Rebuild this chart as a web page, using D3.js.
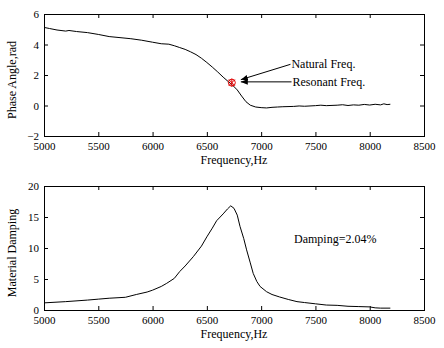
<!DOCTYPE html>
<html>
<head>
<meta charset="utf-8">
<script src="https://d3js.org/d3.v7.min.js"></script>
<style>
  body { margin: 0; background: #fff; }
  svg text { font-family: "Liberation Serif", "Times New Roman", serif; font-size: 11px; fill: #000; }
  .frame { fill: none; stroke: #000; stroke-width: 1; }
  .curve { fill: none; stroke: #000; stroke-width: 1; }
  .domain { display: none; }
</style>
</head>
<body>
<svg width="444" height="348"></svg>
<script>
// phase angle (rad) vs frequency
var phaseFreq = [5000, 5050, 5120, 5200, 5230, 5300, 5400, 5500, 5600, 5700, 5800, 5900, 6000, 6080, 6150, 6200, 6250, 6300, 6350, 6400, 6450, 6500, 6550, 6600, 6650, 6700, 6730, 6780, 6820, 6860, 6900, 6950, 7000, 7050, 7100, 7150, 7200, 7300, 7350, 7400, 7500, 7550, 7600, 7700, 7750, 7800, 7850, 7900, 7950, 8000, 8050, 8100, 8130, 8160, 8190];
var phaseVal  = [5.12, 5.05, 4.95, 4.88, 4.92, 4.85, 4.78, 4.66, 4.52, 4.45, 4.38, 4.28, 4.15, 4.05, 4.02, 3.92, 3.80, 3.68, 3.52, 3.34, 3.10, 2.82, 2.52, 2.20, 1.86, 1.55, 1.38, 1.02, 0.62, 0.25, 0.02, -0.10, -0.14, -0.16, -0.12, -0.10, -0.08, -0.06, -0.03, -0.05, -0.01, 0.02, -0.01, 0.02, 0.05, 0.00, 0.04, 0.02, 0.07, 0.03, 0.08, 0.04, 0.11, 0.06, 0.08];

// material damping vs frequency
var dampFreq = [5000, 5200, 5400, 5500, 5600, 5750, 5850, 5950, 6000, 6080, 6130, 6200, 6250, 6300, 6375, 6450, 6500, 6550, 6590, 6650, 6690, 6720, 6750, 6780, 6805, 6840, 6866, 6900, 6927, 6960, 6990, 7050, 7100, 7170, 7250, 7330, 7400, 7500, 7600, 7700, 7800, 7900, 8000, 8050, 8100, 8190];
var dampVal  = [1.15, 1.35, 1.6, 1.75, 1.9, 2.05, 2.5, 2.9, 3.2, 3.8, 4.3, 5.1, 6.2, 7.1, 8.6, 10.3, 11.8, 13.2, 14.4, 15.5, 16.3, 16.8, 16.4, 15.3, 13.5, 11.5, 9.7, 7.6, 5.9, 4.6, 3.8, 2.95, 2.5, 2.1, 1.7, 1.35, 1.2, 1.0, 0.8, 0.75, 0.6, 0.55, 0.5, 0.35, 0.3, 0.3];

var xTicks = [5000, 5500, 6000, 6500, 7000, 7500, 8000, 8500];
var phaseTicks = [-2, 0, 2, 4, 6];
var dampTicks = [0, 5, 10, 15, 20];

var natural = {f: 6730, v: 1.5};

var svg = d3.select("svg");
var x = d3.scaleLinear().domain([5000, 8500]).range([44, 424]);
var yTop = d3.scaleLinear().domain([-2, 6]).range([136, 14]);
var yBot = d3.scaleLinear().domain([0, 20]).range([310, 186]);
var fmt = d3.format("d");

function serif(sel) {
  sel.attr("font-family", "Liberation Serif, Times New Roman, serif").attr("font-size", 11);
}

function panel(y, yTicks, freq, vals, ylabel) {
  var g = svg.append("g");
  var top = y.range()[1], bottom = y.range()[0];

  g.append("g").attr("transform", "translate(0," + bottom + ")")
    .call(d3.axisBottom(x).tickValues(xTicks).tickSize(-4).tickPadding(6).tickFormat(fmt))
    .call(serif);
  g.append("g").attr("transform", "translate(0," + top + ")")
    .call(d3.axisTop(x).tickValues(xTicks).tickSize(-4).tickFormat(""));
  g.append("g").attr("transform", "translate(44,0)")
    .call(d3.axisLeft(y).tickValues(yTicks).tickSize(-4).tickPadding(5).tickFormat(fmt))
    .call(serif);
  g.append("g").attr("transform", "translate(424,0)")
    .call(d3.axisRight(y).tickValues(yTicks).tickSize(-4).tickFormat(""));

  g.append("rect").attr("class", "frame")
    .attr("x", 44.5).attr("y", top + 0.5)
    .attr("width", 380).attr("height", bottom - top);

  var line = d3.line()
    .x(function(d, i) { return x(freq[i]); })
    .y(function(d) { return y(d); });
  g.append("path").attr("class", "curve").attr("d", line(vals));

  g.append("text").attr("x", 234).attr("y", bottom + 28)
    .attr("text-anchor", "middle").style("font-size", "12px").text("Frequency,Hz");
  g.append("text")
    .attr("transform", "translate(16," + ((top + bottom) / 2 + 5) + ") rotate(-90)")
    .attr("text-anchor", "middle").style("font-size", "12px").text(ylabel);
  return g;
}

var gTop = panel(yTop, phaseTicks, phaseFreq, phaseVal, "Phase Angle,rad");
var gBot = panel(yBot, dampTicks, dampFreq, dampVal, "Material Damping");

// arrows pointing at the resonance point
svg.append("defs").append("marker")
  .attr("id", "head").attr("viewBox", "0 0 10 10")
  .attr("refX", 10).attr("refY", 5)
  .attr("markerWidth", 7).attr("markerHeight", 7)
  .attr("orient", "auto")
  .append("path").attr("d", "M0,1 L10,5 L0,9 z").attr("fill", "#000");

var px = x(natural.f), py = yTop(natural.v);
gTop.append("line")
  .attr("x1", x(7270)).attr("y1", yTop(2.7))
  .attr("x2", px + 9).attr("y2", py - 3)
  .attr("stroke", "#000").attr("marker-end", "url(#head)");
gTop.append("line")
  .attr("x1", x(7280)).attr("y1", yTop(1.55))
  .attr("x2", px + 9).attr("y2", yTop(1.55))
  .attr("stroke", "#000").attr("marker-end", "url(#head)");
gTop.append("text").attr("x", x(7270) + 1).attr("y", yTop(2.7) + 4).style("font-size", "12px").text("Natural Freq.");
gTop.append("text").attr("x", x(7280) + 1).attr("y", yTop(1.55) + 4).style("font-size", "12px").text("Resonant Freq.");

// resonance marker
gTop.append("circle").attr("cx", px).attr("cy", py).attr("r", 3.5)
  .attr("fill", "none").attr("stroke", "#e00000");
gTop.append("path")
  .attr("d", "M" + (px - 3) + "," + (py - 3) + "L" + (px + 3) + "," + (py + 3) +
             "M" + (px - 3) + "," + (py + 3) + "L" + (px + 3) + "," + (py - 3) +
             "M" + px + "," + (py - 4) + "L" + px + "," + (py + 4))
  .attr("stroke", "#e00000").attr("fill", "none");

gBot.append("text").attr("x", 294).attr("y", 243).style("font-size", "12px").text("Damping=2.04%");
</script>
</body>
</html>
